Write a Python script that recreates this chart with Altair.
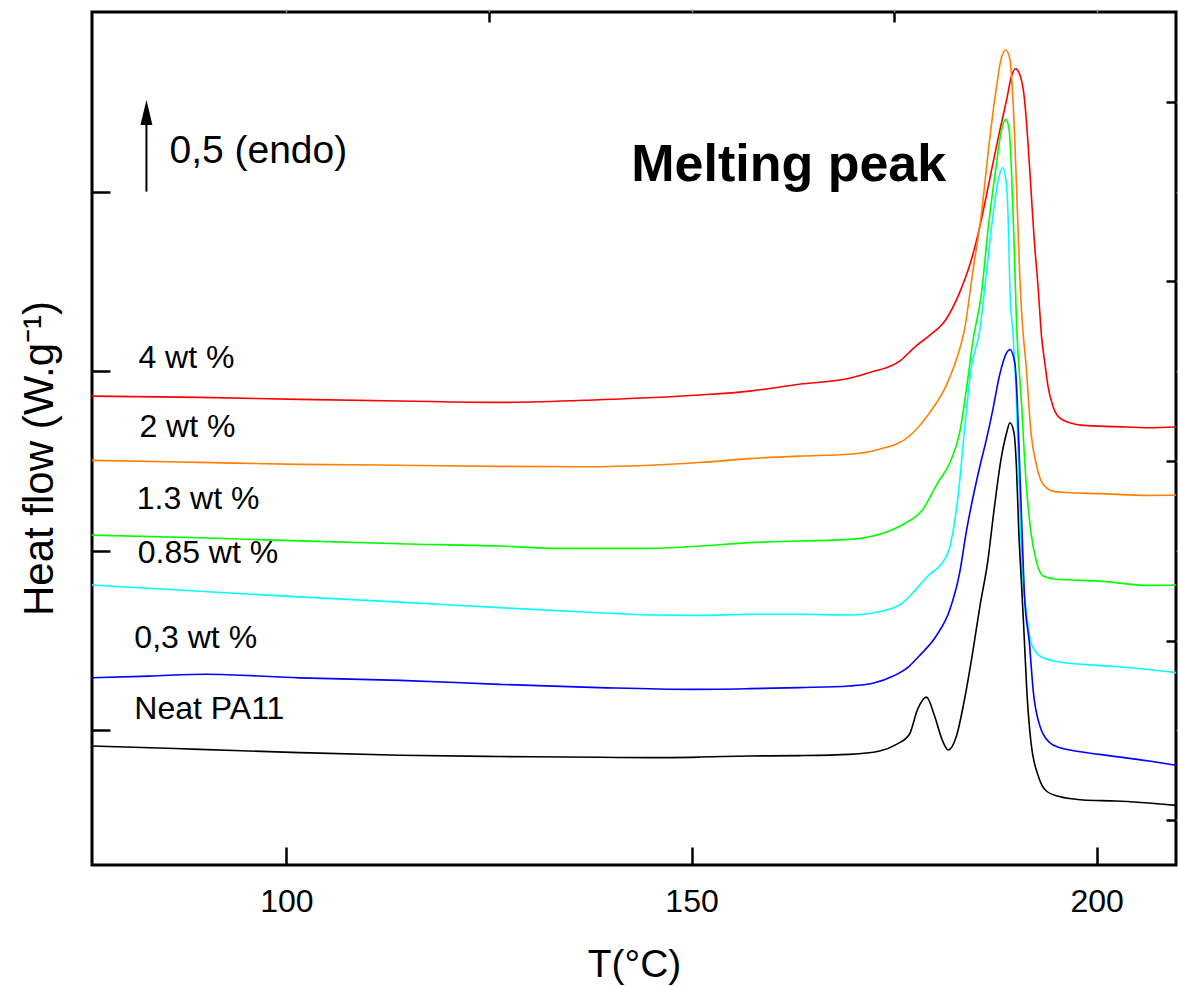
import altair as alt
import pandas as pd

FONT = "Liberation Sans"

# DSC melting traces (temperature in °C, heat flow shifted per sample)
series_names = ["4 wt %", "2 wt %", "1.3 wt %", "0.85 wt %", "0,3 wt %", "Neat PA11"]
series_colors = ["#ff0000", "#ff8000", "#00ff00", "#00ffff", "#0000ff", "#000000"]

t_4wt = [76, 89.3, 101.6, 114.0, 126.3, 138.6, 151.0, 157.2, 163.3, 169.5, 172.0, 175.7, 177.7,
         179.4, 181.4, 183.1, 184.3, 185.6, 186.8, 188.0, 188.9, 189.5, 190.0, 190.7, 191.1, 191.5,
         191.9, 192.3, 192.8, 193.2, 193.6, 194.0, 194.6, 195.4, 196.7, 198.3, 202.4, 206.5, 209.8]
h_4wt = [1.861, 1.854, 1.843, 1.834, 1.826, 1.841, 1.867, 1.889, 1.927, 1.960, 1.992, 2.056, 2.140,
         2.199, 2.288, 2.439, 2.585, 2.808, 3.068, 3.330, 3.513, 3.643, 3.684, 3.625, 3.513, 3.291,
         3.012, 2.734, 2.455, 2.195, 2.049, 1.917, 1.806, 1.741, 1.713, 1.698, 1.691, 1.685, 1.689]

t_2wt = [76, 89.3, 101.6, 114.0, 126.3, 138.6, 151.0, 157.2, 163.3, 169.5, 173.2, 176.9, 179.4,
         181.4, 182.7, 183.7, 184.7, 185.8, 186.8, 187.6, 188.2, 188.8, 189.3, 189.6, 189.9, 190.2,
         190.5, 190.8, 191.3, 191.9, 192.6, 193.4, 194.6, 196.3, 200.4, 206.5, 209.8]
h_2wt = [1.503, 1.492, 1.481, 1.476, 1.470, 1.468, 1.491, 1.513, 1.527, 1.537, 1.565, 1.639, 1.769,
         1.917, 2.066, 2.233, 2.548, 2.883, 3.291, 3.569, 3.736, 3.788, 3.736, 3.569, 3.291, 2.919,
         2.548, 2.288, 2.028, 1.658, 1.472, 1.370, 1.332, 1.324, 1.318, 1.308, 1.310]

t_13wt = [76, 89.3, 101.6, 114.0, 126.3, 133.7, 144.8, 151.0, 157.2, 163.3, 169.5, 174.4, 176.5,
          178.4, 180.4, 181.9, 183.1, 184.1, 184.7, 185.8, 186.6, 187.6, 188.2, 188.8, 189.2, 189.5,
          189.8, 190.1, 190.7, 191.3, 191.9, 192.6, 193.4, 195.0, 200.4, 206.5, 209.8]
h_13wt = [1.087, 1.072, 1.055, 1.039, 1.026, 1.013, 1.013, 1.026, 1.045, 1.054, 1.063, 1.110, 1.156,
          1.221, 1.379, 1.491, 1.658, 1.954, 2.159, 2.437, 2.790, 3.142, 3.328, 3.402, 3.346, 3.105,
          2.734, 2.288, 1.843, 1.379, 1.101, 0.934, 0.859, 0.841, 0.831, 0.807, 0.809]

t_085wt = [76, 89.3, 101.6, 114.0, 126.3, 138.6, 144.8, 151.0, 157.2, 163.3, 169.5, 173.6, 176.1,
           177.7, 179.4, 180.8, 181.9, 182.9, 183.7, 184.5, 185.6, 186.4, 187.2, 187.8, 188.4, 188.8,
           189.1, 189.3, 189.7, 190.1, 190.5, 190.8, 191.3, 191.9, 193.0, 195.4, 198.3, 202.4, 209.8]
h_085wt = [0.809, 0.774, 0.743, 0.714, 0.683, 0.655, 0.642, 0.640, 0.646, 0.646, 0.642, 0.664, 0.711,
           0.785, 0.869, 0.924, 1.026, 1.305, 1.676, 2.010, 2.233, 2.548, 2.864, 3.050, 3.133, 3.068,
           2.827, 2.455, 2.195, 1.843, 1.286, 0.896, 0.674, 0.488, 0.414, 0.380, 0.367, 0.355, 0.321]

t_03wt = [76, 83.1, 90.1, 101.6, 114.0, 126.3, 138.6, 149.8, 157.2, 163.3, 169.5, 172.4, 174.9,
          176.9, 178.1, 180.2, 181.9, 183.1, 183.9, 185.6, 186.4, 187.2, 188.0, 188.9, 189.3, 189.9,
          190.2, 190.5, 190.8, 191.1, 191.7, 192.2, 193.0, 194.2, 195.4, 196.7, 200.4, 206.5, 209.8]
h_03wt = [0.293, 0.302, 0.312, 0.292, 0.278, 0.256, 0.238, 0.228, 0.232, 0.238, 0.247, 0.262, 0.302,
          0.358, 0.414, 0.525, 0.674, 0.878, 1.101, 1.472, 1.620, 1.787, 1.973, 2.103, 2.121, 2.047,
          1.843, 1.472, 1.101, 0.748, 0.488, 0.210, 0.024, -0.068, -0.096, -0.110, -0.134, -0.171, -0.195]

t_neat = [76, 89.3, 101.6, 114.0, 126.3, 138.6, 144.8, 151.0, 157.2, 163.3, 169.5, 173.2, 175.3,
          176.9, 177.9, 179.0, 180.0, 181.0, 181.7, 182.7, 183.7, 184.7, 185.6, 186.6, 187.2, 188.2,
          188.9, 189.3, 189.8, 190.1, 190.4, 190.7, 191.0, 191.4, 191.9, 192.8, 193.8, 195.4, 198.3,
          202.4, 209.8]
h_neat = [-0.087, -0.106, -0.124, -0.139, -0.146, -0.150, -0.152, -0.149, -0.143, -0.141, -0.134,
          -0.115, -0.078, -0.022, 0.117, 0.185, 0.080, -0.060, -0.110, -0.032, 0.173, 0.433, 0.692,
          0.952, 1.175, 1.509, 1.658, 1.713, 1.658, 1.472, 1.101, 0.840, 0.581, 0.210, -0.068,
          -0.254, -0.338, -0.369, -0.388, -0.394, -0.418]

# Sample labels written to the left of each trace
label_t = [81.73, 81.85, 81.52, 81.64, 81.23, 81.23]
label_h = [2.019, 1.635, 1.231, 0.934, 0.460, 0.061]

# Scale arrow: 0.5 W/g, endothermic upwards
arrow_t = [82.72]
arrow_h_start = [3.0]
arrow_h_end = [3.44]
arrow_head_h = [3.44]

x_domain = [76, 209.8]
y_domain = [-0.75, 4.0]
x_major = [100, 150, 200]
x_minor = [125, 175]
y_major = [0, 1, 2, 3]
y_minor = [-0.5, 0.5, 1.5, 2.5, 3.5]

traces = [t_4wt, t_2wt, t_13wt, t_085wt, t_03wt, t_neat]
values = [h_4wt, h_2wt, h_13wt, h_085wt, h_03wt, h_neat]
rows = []
for name, ts, hs in zip(series_names, traces, values):
    for i, (t, h) in enumerate(zip(ts, hs)):
        rows.append({"sample": name, "T": t, "H": h, "i": i})
curves = pd.DataFrame(rows)
labels = pd.DataFrame({"sample": series_names, "T": label_t, "H": label_h})
arrow = pd.DataFrame({"T": arrow_t, "H": arrow_h_start, "H2": arrow_h_end, "Hh": arrow_head_h})
notes = pd.DataFrame({"T": [85.56, 142.56], "H": [3.161, 3.058],
                      "text": ["0,5 (endo)", "Melting peak"]})

xs = alt.Scale(domain=x_domain, nice=False, zero=False)
ys = alt.Scale(domain=y_domain, nice=False, zero=False)
color = alt.Color("sample:N", scale=alt.Scale(domain=series_names, range=series_colors), legend=None)

lines = alt.Chart(curves).mark_line(strokeWidth=1.6, clip=True, interpolate="monotone").encode(
    x=alt.X("T:Q", scale=xs, axis=alt.Axis(
        values=x_major, tickSize=18, offset=-18, tickWidth=2.5, tickColor="black", domain=False,
        grid=False, labelFont=FONT, labelFontSize=32, labelColor="black", labelBaseline="alphabetic",
        labelPadding=46, format="d", title="T(°C)", titleFont=FONT, titleFontSize=39,
        titleFontWeight="normal", titleColor="black", titleBaseline="alphabetic", titleY=129)),
    y=alt.Y("H:Q", scale=ys, axis=alt.Axis(
        values=y_major, tickSize=18, offset=-18, tickWidth=2.5, tickColor="black", domain=False,
        grid=False, labels=False, title="Heat flow (W.g⁻¹)", titleFont=FONT, titleFontSize=42,
        titleFontWeight="normal", titleColor="black", titleAngle=270, titleAlign="center",
        titleBaseline="alphabetic", titleX=-58, titleY=446)),
    color=color,
    order="i:Q",
    detail="sample:N",
)

minor = alt.Chart(labels).mark_point(opacity=0).encode(
    x=alt.X("T:Q", scale=xs, axis=alt.Axis(
        values=x_minor, tickSize=10, offset=-10, tickWidth=2.5, tickColor="black", domain=False,
        grid=False, labels=False, title=None)),
    y=alt.Y("H:Q", scale=ys, axis=alt.Axis(
        values=y_minor, tickSize=10, offset=-10, tickWidth=2.5, tickColor="black", domain=False,
        grid=False, labels=False, title=None)),
)

mirror = alt.Chart(labels).mark_point(opacity=0).encode(
    x=alt.X("T:Q", scale=xs, axis=alt.Axis(
        orient="top", values=x_major + x_minor, tickSize=3, tickWidth=1.5, tickColor="#999999",
        domain=False, grid=False, labels=False, title=None)),
    y=alt.Y("H:Q", scale=ys, axis=alt.Axis(
        orient="right", values=y_major + y_minor, tickSize=3, tickWidth=1.5, tickColor="#999999",
        domain=False, grid=False, labels=False, title=None)),
)

label_text = alt.Chart(labels).mark_text(
    align="left", baseline="alphabetic", font=FONT, fontSize=32, color="black"
).encode(
    x=alt.X("T:Q", scale=xs, axis=None),
    y=alt.Y("H:Q", scale=ys, axis=None),
    text="sample:N",
)

endo_note = alt.Chart(notes.iloc[[0]]).mark_text(
    align="left", baseline="alphabetic", font=FONT, fontSize=39, color="black"
).encode(
    x=alt.X("T:Q", scale=xs, axis=None),
    y=alt.Y("H:Q", scale=ys, axis=None),
    text="text:N",
)

peak_note = alt.Chart(notes.iloc[[1]]).mark_text(
    align="left", baseline="alphabetic", font=FONT, fontSize=52, fontWeight="bold", color="black"
).encode(
    x=alt.X("T:Q", scale=xs, axis=None),
    y=alt.Y("H:Q", scale=ys, axis=None),
    text="text:N",
)

arrow_shaft = alt.Chart(arrow).mark_rule(strokeWidth=2, color="black").encode(
    x=alt.X("T:Q", scale=xs, axis=None),
    y=alt.Y("H:Q", scale=ys, axis=None),
    y2="H2:Q",
)

arrow_head = alt.Chart(arrow).mark_point(
    shape="M0,-1L0.48,1L-0.48,1Z", filled=True, size=625, color="black", opacity=1
).encode(
    x=alt.X("T:Q", scale=xs, axis=None),
    y=alt.Y("Hh:Q", scale=ys, axis=None),
)

chart = alt.layer(
    lines, minor, mirror, label_text, endo_note, peak_note, arrow_shaft, arrow_head
).resolve_axis(
    x="independent", y="independent"
).properties(
    width=1084, height=853,
    padding={"left": 92, "top": 12, "right": 2, "bottom": 121},
    autosize=alt.AutoSizeParams(type="none"),
    background="white",
).configure_view(
    stroke="black", strokeWidth=3
)

chart.save("out.html", embed_options={"renderer": "svg", "actions": False})
